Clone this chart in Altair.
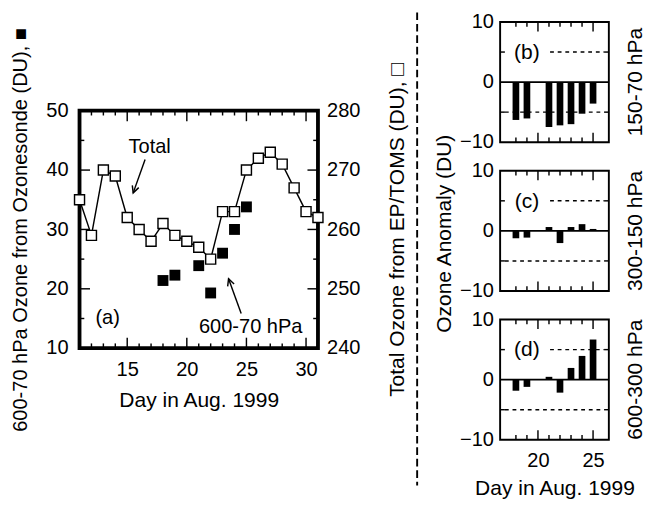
import altair as alt
import pandas as pd

FONT = "Liberation Sans, DejaVu Sans"

# ---------------- data ----------------
total_days = list(range(11, 32))
total_ozone = [265, 259, 270, 269, 262, 260, 258, 261, 259, 258, 257,
               255, 263, 263, 270, 272, 273, 271, 267, 263, 262]
sonde_days = [18, 19, 21, 22, 23, 24, 25]
sonde_ozone = [21.4, 22.3, 23.9, 19.3, 26.0, 30.0, 33.8]

anom_days = [18, 19, 21, 22, 23, 24, 25]
anom_150_70 = [-6.3, -6.05, -7.47, -7.2, -7.0, -5.26, -3.58]
anom_300_150 = [-1.23, -1.12, 0.64, -2.03, 0.64, 1.12, 0.32]
anom_600_300 = [-1.84, -1.2, 0.47, -2.16, 1.95, 3.95, 6.68]

# tick / label values
a_xticks_minor = [12, 13, 14, 16, 17, 18, 19, 21, 22, 23, 24, 26, 27, 28, 29]
a_xticks_major = [15, 20, 25, 30]
a_yticks_minor = [15, 25, 35, 45]
a_yticks_major = [20, 30, 40]
a_left_labels = [10, 20, 30, 40, 50]
a_right_labels = [240, 250, 260, 270, 280]
a_x_labels = [15, 20, 25, 30]

r_xticks_minor = [18, 19, 21, 22, 23, 24]
r_xticks_major = [20, 25]
r_yticks = [-5, 5]
r_y_labels = [-10, 0, 10]
r_x_labels = [20, 25]

# annotations (data coordinates of panel a)
ann_labels = ["Total", "600-70 hPa", "(a)"]
ann_x = [16.88, 25.36, 13.36]
ann_y = [43.8, 13.6, 15.1]
arrow_x0 = [16.5, 24.56]
arrow_y0 = [41.78, 15.83]
arrow_x1 = [15.5, 23.5]
arrow_y1 = [36.16, 21.7]
arrow_angle = [200, 340]

panel_letters = ["(b)", "(c)", "(d)"]
panel_levels = ["150-70 hPa", "300-150 hPa", "600-300 hPa"]
anom_title = ["Ozone Anomaly (DU)"]
ref_x0 = [21.1, 17]
ref_x1 = [26, 26]
ref_y = [5, -5]

W_A, H_A = 250, 249
W_R, H_R = 114, 126
LAB = 21   # tick label font size
TTL = 22   # title font size

V_SHAPE = "M -0.8 1.6 L 0 0 L 0.8 1.6"


def x_ticks(days, length, H, sw, xscale, xaxis):
    d = pd.DataFrame({"day": days})
    base = alt.Chart(d).mark_rule(color="black", strokeWidth=sw)
    x = alt.X("day:Q", scale=xscale, axis=xaxis)
    bottom = base.encode(x=x, y=alt.value(H), y2=alt.value(H - length))
    top = base.encode(x=x, y=alt.value(0), y2=alt.value(length))
    return [bottom, top]


def y_ticks(vals, length, W, sw, yscale, yaxis):
    d = pd.DataFrame({"v": vals})
    base = alt.Chart(d).mark_rule(color="black", strokeWidth=sw)
    y = alt.Y("v:Q", scale=yscale, axis=yaxis)
    left = base.encode(y=y, x=alt.value(0), x2=alt.value(length))
    right = base.encode(y=y, x=alt.value(W), x2=alt.value(W - length))
    return [left, right]


# ---------------- panel (a) ----------------
xa = alt.Scale(domain=[11, 31], nice=False, zero=False)
ya_left = alt.Scale(domain=[10, 50], nice=False, zero=False)
ya_right = alt.Scale(domain=[240, 280], nice=False, zero=False)

xa_axis = alt.Axis(values=a_x_labels, title="Day in Aug. 1999", format="d",
                   labelPadding=12, titlePadding=11, titleFontSize=TTL)
yl_axis = alt.Axis(orient="left", values=a_left_labels,
                   title="600-70 hPa Ozone from Ozonesonde (DU), \u25a0",
                   labelPadding=12, titlePadding=16.5, titleFontSize=21)
yr_axis = alt.Axis(orient="right", values=a_right_labels,
                   title="Total Ozone from EP/TOMS (DU), \u25a1",
                   titleAngle=270, titleBaseline="top", labelPadding=9, titlePadding=29,
                   titleFontSize=TTL)

df_total = pd.DataFrame({"day": total_days, "ozone": total_ozone})
df_sonde = pd.DataFrame({"day": sonde_days, "ozone": sonde_ozone})

sonde = alt.Chart(df_sonde).mark_square(size=130, color="black", opacity=1).encode(
    x=alt.X("day:Q", scale=xa, axis=xa_axis),
    y=alt.Y("ozone:Q", scale=ya_left, axis=yl_axis),
)

df_ann = pd.DataFrame({"day": ann_x, "val": ann_y, "label": ann_labels})
ann_text = alt.Chart(df_ann).mark_text(fontSize=21, font=FONT, color="black").encode(
    x=alt.X("day:Q", scale=xa, axis=xa_axis),
    y=alt.Y("val:Q", scale=ya_left, axis=yl_axis),
    text="label:N",
)
df_arrow = pd.DataFrame({"x0": arrow_x0, "y0": arrow_y0, "x1": arrow_x1,
                         "y1": arrow_y1, "ang": arrow_angle})
arrow_lines = alt.Chart(df_arrow).mark_rule(color="black", strokeWidth=1.5).encode(
    x=alt.X("x0:Q", scale=xa, axis=xa_axis),
    y=alt.Y("y0:Q", scale=ya_left, axis=yl_axis),
    x2="x1:Q", y2="y1:Q",
)
arrow_heads = alt.Chart(df_arrow).mark_point(
    shape=V_SHAPE, filled=False, size=80, strokeWidth=1.5, color="black", opacity=1
).encode(
    x=alt.X("x1:Q", scale=xa, axis=xa_axis),
    y=alt.Y("y1:Q", scale=ya_left, axis=yl_axis),
    angle=alt.Angle("ang:Q", scale=None),
)

a_ticks = (x_ticks(a_xticks_minor, 5, H_A, 1.5, xa, xa_axis)
           + x_ticks(a_xticks_major, 11, H_A, 1.5, xa, xa_axis)
           + y_ticks(a_yticks_minor, 5, W_A, 1.5, ya_left, yl_axis)
           + y_ticks(a_yticks_major, 11, W_A, 1.5, ya_left, yl_axis))

left_group = alt.layer(sonde, *a_ticks, arrow_lines, arrow_heads, ann_text)

total_line = alt.Chart(df_total).mark_line(color="black", strokeWidth=1.5).encode(
    x=alt.X("day:Q", scale=xa, axis=xa_axis),
    y=alt.Y("ozone:Q", scale=ya_right, axis=yr_axis),
)
total_pts = alt.Chart(df_total).mark_square(
    size=110, fill="white", stroke="black", strokeWidth=1.5, opacity=1, filled=True
).encode(
    x=alt.X("day:Q", scale=xa, axis=xa_axis),
    y=alt.Y("ozone:Q", scale=ya_right, axis=yr_axis),
)
right_group = alt.layer(total_line, total_pts)

panel_a = alt.layer(left_group, right_group).resolve_scale(y="independent").properties(
    width=W_A, height=H_A, view=alt.ViewBackground(stroke="black", strokeWidth=4)
)


# ---------------- anomaly panels ----------------
def anomaly_panel(values, letter, level, show_x):
    xs = alt.Scale(domain=[17, 26], nice=False, zero=False)
    ys = alt.Scale(domain=[-10, 10], nice=False)
    df = pd.DataFrame({"day": anom_days, "val": values})
    if show_x:
        xaxis = alt.Axis(values=r_x_labels, title="Day in Aug. 1999", format="d",
                         labelPadding=11, titlePadding=8, titleFontSize=TTL)
    else:
        xaxis = None
    yaxis = alt.Axis(values=r_y_labels, title=None, labelPadding=7)
    bars = alt.Chart(df).mark_bar(size=7, color="black").encode(
        x=alt.X("day:Q", scale=xs, axis=xaxis),
        y=alt.Y("val:Q", scale=ys, axis=yaxis),
    )
    zero = alt.Chart(pd.DataFrame({"z": [0]})).mark_rule(color="black", strokeWidth=2).encode(
        y=alt.Y("z:Q", scale=ys, axis=yaxis)
    )
    df_ref = pd.DataFrame({"x0": ref_x0, "x1": ref_x1, "y": ref_y})
    refs = alt.Chart(df_ref).mark_rule(color="black", strokeWidth=1.5, strokeDash=[4, 4]).encode(
        x=alt.X("x0:Q", scale=xs, axis=xaxis), x2="x1:Q",
        y=alt.Y("y:Q", scale=ys, axis=yaxis),
    )
    df_letter = pd.DataFrame({"day": [19], "val": [5], "label": [letter]})
    letter_t = alt.Chart(df_letter).mark_text(fontSize=TTL, font=FONT, color="black").encode(
        x=alt.X("day:Q", scale=xs, axis=xaxis),
        y=alt.Y("val:Q", scale=ys, axis=yaxis),
        text="label:N",
    )
    df_level = pd.DataFrame({"label": [level]})
    level_t = alt.Chart(df_level).mark_text(fontSize=TTL, font=FONT, color="black", angle=270).encode(
        x=alt.value(W_R + 28), y=alt.value(H_R / 2), text="label:N"
    )
    ticks = (x_ticks(r_xticks_minor, 5, H_R, 1.5, xs, xaxis)
             + x_ticks(r_xticks_major, 10, H_R, 1.5, xs, xaxis)
             + y_ticks(r_yticks, 5, W_R, 1.5, ys, yaxis))
    return alt.layer(refs, bars, zero, *ticks, letter_t, level_t).properties(
        width=W_R, height=H_R, view=alt.ViewBackground(stroke="black", strokeWidth=2)
    )


panel_b = anomaly_panel(anom_150_70, panel_letters[0], panel_levels[0], False)
panel_c = anomaly_panel(anom_300_150, panel_letters[1], panel_levels[1], False)
panel_d = anomaly_panel(anom_600_300, panel_letters[2], panel_levels[2], True)
right_col = alt.vconcat(panel_b, panel_c, panel_d, spacing=7)

# ---------------- divider (dashed line + shared y title) & spacer ----------------
DIV_W, DIV_H = 48.5, 486
divider_line = alt.Chart(pd.DataFrame({"k": [0]})).mark_rule(
    color="black", strokeWidth=2, strokeDash=[8, 4]
).encode(x=alt.value(6), y=alt.value(-10), y2=alt.value(DIV_H))
divider_title = alt.Chart(pd.DataFrame({"label": anom_title})).mark_text(
    fontSize=TTL, font=FONT, color="black", angle=270
).encode(x=alt.value(35), y=alt.value(222), text="label:N")
divider = alt.layer(divider_line, divider_title).properties(
    width=DIV_W, height=DIV_H, view=alt.ViewBackground(stroke="transparent")
)

spacer = alt.Chart(pd.DataFrame({"k": [0]})).mark_rule(opacity=0).encode(
    x=alt.value(0), y=alt.value(0), y2=alt.value(1)
).properties(width=10, height=1, view=alt.ViewBackground(stroke="transparent"))

col_a = alt.vconcat(spacer, panel_a, spacing=1)

chart = alt.hconcat(col_a, divider, right_col, spacing=0).properties(
    padding={"top": -9.5, "left": 0, "right": 0, "bottom": 0}
).configure_axis(
    labelFont=FONT, labelFontSize=LAB, labelColor="black",
    titleFont=FONT, titleFontSize=TTL, titleFontWeight="normal", titleColor="black",
    grid=False, domain=False, ticks=False, tickSize=0,
).configure_text(font=FONT)

chart.save("out.html", embed_options={"renderer": "svg", "actions": False})
